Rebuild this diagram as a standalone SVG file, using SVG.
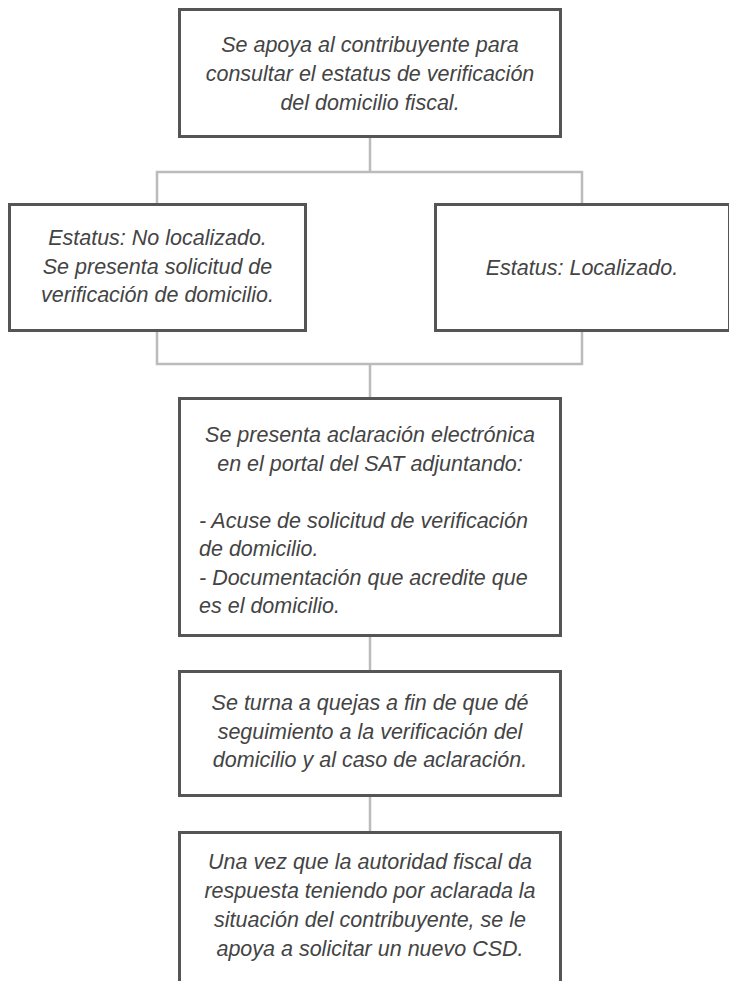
<svg xmlns="http://www.w3.org/2000/svg" width="729" height="981" viewBox="0 0 729 981">
<style>
.box{fill:#fff;stroke:#555;stroke-width:3}
.t{font-family:"Liberation Sans",Arial,sans-serif;font-style:italic;font-size:21.5px;fill:#444;text-anchor:middle}
.l{text-anchor:start}
.c{fill:none;stroke:#bbb;stroke-width:2.5}
</style>
<rect width="729" height="981" fill="#fff"/>
<g id="connectors">
<path class="c" d="M370 138V172M157 205V172H582V205"/>
<path class="c" d="M157 331V364H582V331M370 364V398"/>
<path class="c" d="M370 637V671"/>
<path class="c" d="M370 797V832"/>
</g>
<g id="n1">
<rect class="box" x="179.5" y="9.5" width="381" height="127"/>
<text class="t" x="370" y="52">Se apoya al contribuyente para</text>
<text class="t" x="370" y="81">consultar el estatus de verificación</text>
<text class="t" x="370" y="110">del domicilio fiscal.</text>
</g>
<g id="n2">
<rect class="box" x="9.5" y="204.5" width="296" height="126"/>
<text class="t" x="157.5" y="245">Estatus: No localizado.</text>
<text class="t" x="157.5" y="273.5">Se presenta solicitud de</text>
<text class="t" x="157.5" y="302">verificación de domicilio.</text>
</g>
<g id="n3">
<rect class="box" x="435.5" y="204.5" width="294" height="126"/>
<text class="t" x="582" y="275">Estatus: Localizado.</text>
</g>
<g id="n4">
<rect class="box" x="179.5" y="398.5" width="381" height="237"/>
<text class="t" x="370" y="442">Se presenta aclaración electrónica</text>
<text class="t" x="370" y="470.5">en el portal del SAT adjuntando:</text>
<text class="t l" x="199" y="527.5">- Acuse de solicitud de verificación</text>
<text class="t l" x="199" y="556">de domicilio.</text>
<text class="t l" x="199" y="584.5">- Documentación que acredite que</text>
<text class="t l" x="199" y="613">es el domicilio.</text>
</g>
<g id="n5">
<rect class="box" x="179.5" y="671.5" width="381" height="124"/>
<text class="t" x="370" y="710">Se turna a quejas a fin de que dé</text>
<text class="t" x="370" y="738.5">seguimiento a la verificación del</text>
<text class="t" x="370" y="767">domicilio y al caso de aclaración.</text>
</g>
<g id="n6">
<rect class="box" x="179.5" y="832.5" width="381" height="160"/>
<text class="t" x="370" y="869">Una vez que la autoridad fiscal da</text>
<text class="t" x="370" y="898">respuesta teniendo por aclarada la</text>
<text class="t" x="370" y="927">situación del contribuyente, se le</text>
<text class="t" x="370" y="956">apoya a solicitar un nuevo CSD.</text>
</g>
</svg>
